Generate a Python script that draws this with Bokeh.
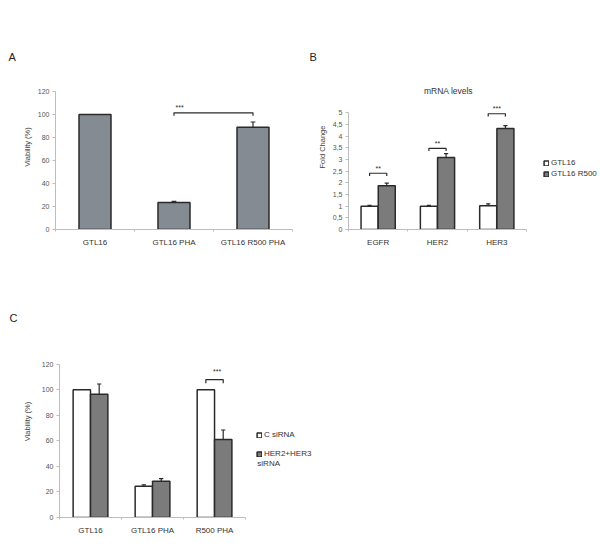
from bokeh.plotting import figure
from bokeh.models import (Range1d, FixedTicker, CustomJSTickFormatter, Label,
                          Legend, LegendItem, Title)
from bokeh.layouts import column, row
from bokeh.embed import file_html
from bokeh.resources import INLINE

FONT = "Liberation Sans"

# ---------------- data ----------------
# Panel A
a_labels = ["GTL16", "GTL16 PHA", "GTL16 R500 PHA"]
a_values = [100, 23.5, 89]
a_errors = [0, 1, 4.5]
a_sig_from = [1]
a_sig_to = [2]
a_sig_y = [101.5]
a_sig_text = ["***"]

# Panel B
b_genes = ["EGFR", "HER2", "HER3"]
b_gtl16 = [1.0, 1.0, 1.02]
b_gtl16_err = [0.03, 0.03, 0.08]
b_r500 = [1.87, 3.09, 4.33]
b_r500_err = [0.12, 0.16, 0.12]
b_sig_y = [2.41, 3.48, 4.96]
b_sig_text = ["**", "**", "***"]
b_series = ["GTL16", "GTL16 R500"]
b_title = "mRNA levels"
b_yticks = [0, 0.5, 1, 1.5, 2, 2.5, 3, 3.5, 4, 4.5, 5]

# Panel C
c_labels = ["GTL16", "GTL16 PHA", "R500 PHA"]
c_ctrl = [100, 24.5, 100]
c_ctrl_err = [0, 1, 0]
c_her = [96.5, 28.4, 61]
c_her_err = [8, 2, 7.5]
c_sig_group = [2]
c_sig_y = [108]
c_sig_text = ["***"]
c_series = ["C siRNA", "HER2+HER3", "siRNA"]

vy_ticks = [0, 20, 40, 60, 80, 100, 120]

AX = "#bdbdbd"
TXT = "#444444"
DARK = "#2a2a2a"
GRAY_A = "#858b92"
GRAY_B = "#7b7b7b"


def make_fig(width, height, left, right, top, bottom, x_end, y_end, y_top,
             yticks, xlabels, ylabel, letter, letter_offset, comma=False,
             label_standoff=3):
    p = figure(width=width, height=height, output_backend="svg",
               toolbar_location=None, x_range=Range1d(0, x_end),
               y_range=Range1d(0, y_end), min_border_left=left,
               min_border_right=right, min_border_top=top,
               min_border_bottom=bottom)
    p.xgrid.visible = False
    p.ygrid.visible = False
    p.outline_line_color = None
    p.background_fill_color = "white"
    p.border_fill_color = "white"
    xa = p.xaxis[0]
    xa.ticker = FixedTicker(ticks=[0.5, 1.5, 2.5], minor_ticks=[0, 1, 2, 3])
    xa.formatter = CustomJSTickFormatter(args=dict(labels=xlabels),
                                         code="return labels[Math.floor(tick)];")
    xa.bounds = (0, 3)
    xa.axis_line_color = AX
    xa.major_tick_line_color = None
    xa.major_tick_out = 0
    xa.major_tick_in = 0
    xa.minor_tick_line_color = AX
    xa.minor_tick_out = 2
    xa.minor_tick_in = 0
    xa.major_label_standoff = 6
    xa.major_label_text_font = FONT
    xa.major_label_text_font_size = "8px"
    xa.major_label_text_color = "#333333"
    ya = p.yaxis[0]
    ya.ticker = FixedTicker(ticks=yticks, minor_ticks=[])
    ya.bounds = (0, y_top)
    if comma:
        ya.formatter = CustomJSTickFormatter(code="return tick.toString().replace('.', ',');")
    ya.axis_line_color = AX
    ya.major_tick_line_color = AX
    ya.major_tick_out = 3
    ya.major_tick_in = 0
    ya.minor_tick_line_color = None
    ya.major_label_standoff = 3
    ya.major_label_text_font = FONT
    ya.major_label_text_font_size = "7px"
    ya.major_label_text_color = "#555555"
    ya.axis_label = ylabel
    ya.axis_label_text_font = FONT
    ya.axis_label_text_font_size = "7.5px"
    ya.axis_label_text_font_style = "normal"
    ya.axis_label_text_color = TXT
    ya.axis_label_standoff = label_standoff
    p.add_layout(Title(text=letter, align="left", offset=letter_offset,
                       standoff=4, text_font=FONT, text_font_size="11px",
                       text_font_style="normal", text_color="#222222"),
                 "above")
    return p


def err_bars(p, xs, vals, errs, cap):
    x0, y0, y1, cx0, cx1 = [], [], [], [], []
    for x, v, e in zip(xs, vals, errs):
        if e > 0:
            x0.append(x); y0.append(v); y1.append(v + e)
            cx0.append(x - cap); cx1.append(x + cap)
    p.segment(x0=x0, y0=y0, x1=x0, y1=y1, line_color=DARK, line_width=1.2)
    p.segment(x0=cx0, y0=y1, x1=cx1, y1=y1, line_color=DARK, line_width=1.2)


def bracket(p, x1, x2, y, drop):
    p.multi_line(xs=[[x1, x1, x2, x2]], ys=[[y - drop, y, y, y - drop]],
                 line_color=DARK, line_width=1.2)


def lab(p, x, y, text, size="7px", align="center", color=DARK):
    p.add_layout(Label(x=x, y=y, text=text, text_font=FONT,
                       text_font_size=size, text_align=align,
                       text_baseline="middle", text_color=color))


# ---------------- Panel A ----------------
pA = make_fig(300, 280, 55, 8, 64, 51, 3, 143.5, 120, vy_ticks, a_labels,
              "Viability (%)", "A", -47)
a_x = [i + 0.5 for i in range(len(a_values))]
pA.vbar(x=a_x, top=a_values, width=0.405, fill_color=GRAY_A,
        line_color=DARK, line_width=1.5)
err_bars(pA, a_x, a_values, a_errors, 0.03)
for f, t, y, s in zip(a_sig_from, a_sig_to, a_sig_y, a_sig_text):
    bracket(pA, a_x[f], a_x[t], y, 2.5)
    lab(pA, a_x[f] + 0.07, y + 5, s, size="7px")

# ---------------- Panel B ----------------
pB = make_fig(300, 280, 48, 0, 64, 51, 4.248, 7.07, 5, b_yticks, b_genes,
              "Fold Change", "B", -39, comma=True)
off, bw = 0.145, 0.287
b_xw = [i + 0.5 - off for i in range(3)]
b_xg = [i + 0.5 + off for i in range(3)]
rw = pB.vbar(x=b_xw, top=b_gtl16, width=bw, fill_color="white",
             line_color=DARK, line_width=1.5)
rg = pB.vbar(x=b_xg, top=b_r500, width=bw, fill_color=GRAY_B,
             line_color=DARK, line_width=1.5)
err_bars(pB, b_xw, b_gtl16, b_gtl16_err, 0.035)
err_bars(pB, b_xg, b_r500, b_r500_err, 0.035)
for i, (y, s) in enumerate(zip(b_sig_y, b_sig_text)):
    bracket(pB, b_xw[i], b_xg[i], y, 0.12)
    lab(pB, i + 0.5, y + 0.22, s, size="7px")
lab(pB, 1.686, 5.93, b_title, size="8.5px", color="#333333")
legB = Legend(items=[LegendItem(label=b_series[0], renderers=[rw]),
                     LegendItem(label=b_series[1], renderers=[rg])],
              location=(195, 51), orientation="vertical", padding=0, margin=0,
              spacing=2, glyph_width=6, glyph_height=6, label_height=9,
              label_standoff=2, label_text_font=FONT,
              label_text_font_size="8px", label_text_color="#333333",
              border_line_color=None, background_fill_alpha=0)
pB.add_layout(legB)

# ---------------- Panel C ----------------
pC = make_fig(330, 272, 59, 0, 45, 35, 4.37, 150.3, 120, vy_ticks, c_labels,
              "Viability (%)", "C", -50, label_standoff=7)
off_c, bw_c = 0.14, 0.28
c_xw = [i + 0.5 - off_c for i in range(3)]
c_xg = [i + 0.5 + off_c for i in range(3)]
cw = pC.vbar(x=c_xw, top=c_ctrl, width=bw_c, fill_color="white",
             line_color=DARK, line_width=1.5)
cg = pC.vbar(x=c_xg, top=c_her, width=bw_c, fill_color=GRAY_B,
             line_color=DARK, line_width=1.5)
err_bars(pC, c_xw, c_ctrl, c_ctrl_err, 0.035)
err_bars(pC, c_xg, c_her, c_her_err, 0.035)
for g, y, s in zip(c_sig_group, c_sig_y, c_sig_text):
    bracket(pC, c_xw[g], c_xg[g], y, 3)
    lab(pC, g + 0.54, y + 6, s, size="7px")
legC = Legend(items=[LegendItem(label=c_series[0], renderers=[cw]),
                     LegendItem(label=c_series[1], renderers=[cg])],
              location=(197, 59), orientation="vertical", padding=0, margin=0,
              spacing=10, glyph_width=6, glyph_height=6, label_height=9,
              label_standoff=2, label_text_font=FONT,
              label_text_font_size="8px", label_text_color="#333333",
              border_line_color=None, background_fill_alpha=0)
pC.add_layout(legC)
lab(pC, 3.19, 42.3, c_series[2], size="8px", align="left", color="#333333")

layout = column(row(pA, pB), row(pC))
open("out.html", "w").write(file_html(layout, INLINE))
